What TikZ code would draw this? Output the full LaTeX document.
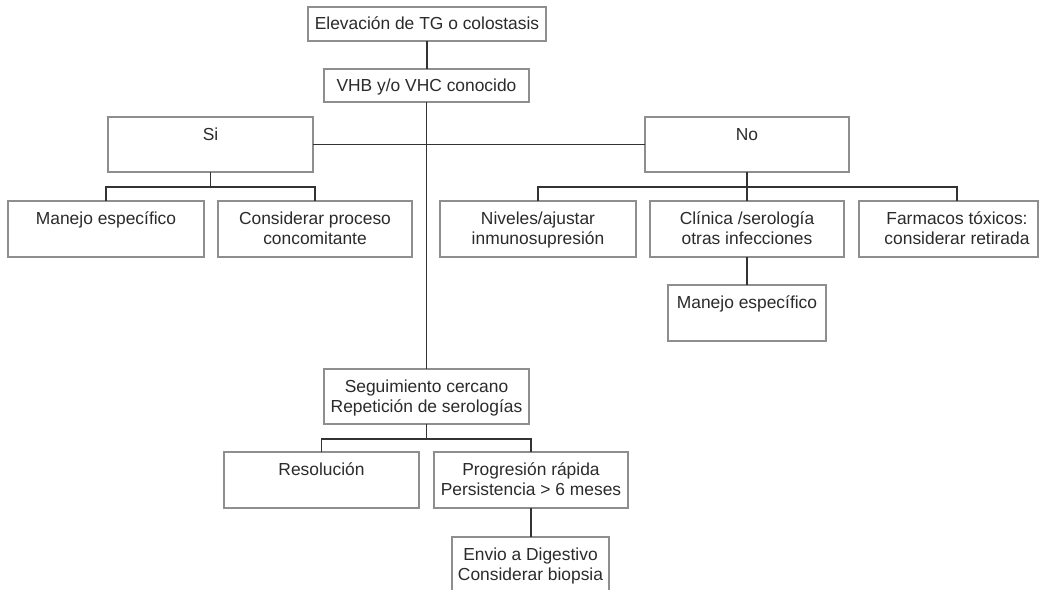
\documentclass[tikz,border=0pt]{standalone}
\usepackage{fontspec}
\setmainfont{Liberation Sans}
\definecolor{boxc}{HTML}{8E8E8E}
\definecolor{linec}{HTML}{333333}
\definecolor{txtc}{HTML}{2B2B2B}
\begin{document}
\begin{tikzpicture}[x=1pt,y=-1pt,
  box/.style={draw=boxc, line width=1.3pt, rectangle, inner sep=0pt, outer sep=0pt,
    anchor=north, align=center, text=txtc,
    font=\fontsize{17.4}{20.5}\selectfont, text height=23pt, text depth=33pt},
  twoline/.style={box, text height=43.5pt, text depth=12.5pt},
  conn/.style={draw=linec, line width=1.8pt}]
\useasboundingbox (0,0) rectangle (1044,589);
\fill[white] (0,0) rectangle (1044,589);
\clip (0,0) rectangle (1044,589);

\node[box, minimum width=238pt, text height=22pt, text depth=12pt] (top) at (427,7) {Elevación de TG o colostasis};
\node[box, minimum width=205pt, text height=22pt, text depth=11pt] (vhb) at (426.5,69) {VHB y/o VHC conocido};
\node[box, minimum width=205pt, text depth=32pt] (si) at (210.5,117) {Si};
\node[box, minimum width=204pt, text depth=32pt] (no) at (747,117) {No};
\node[box, minimum width=196pt] (me1) at (106,201) {Manejo específico};
\node[twoline, minimum width=194pt] (cp) at (315,201) {Considerar proceso\\concomitante};
\node[twoline, minimum width=196pt] (niv) at (538,201) {Niveles/ajustar\\inmunosupresión};
\node[twoline, minimum width=194pt] (cli) at (747,201) {Clínica /serología\\otras infecciones};
\node[twoline, minimum width=179pt] (far) at (948.5,201) {\hspace*{17pt}Farmacos tóxicos:\\\hspace*{17pt}considerar retirada};
\node[box, minimum width=158pt] (me2) at (747,285) {Manejo específico};
\node[twoline, minimum width=205pt, text depth=11.5pt] (sig) at (426.5,369) {Seguimiento cercano\\Repetición de serologías};
\node[box, minimum width=195pt] (res) at (321.5,452) {Resolución};
\node[twoline, minimum width=194pt] (pro) at (531,452) {Progresión rápida\\Persistencia > 6 meses};
\node[twoline, minimum width=157pt] (env) at (530.5,537) {Envio a Digestivo\\Considerar biopsia};

\draw[conn] (top.south) -- (top.south |- vhb.north);
\draw[conn] (vhb.south) -- (vhb.south |- sig.north);
\draw[conn] (si.east) -- (no.west);
\draw[conn] (si.south) -- ++(0,15);
\draw[conn] (me1.north) -- ++(0,-14) -| (cp.north);
\draw[conn] (no.south) -- (cli.north);
\draw[conn] (niv.north) -- ++(0,-14) -| ([xshift=8.5pt]far.north);
\draw[conn] (cli.south) -- (me2.north);
\draw[conn] (sig.south) -- ++(0,15);
\draw[conn] (res.north) -- ++(0,-13) -| (pro.north);
\draw[conn] (pro.south) -- (pro.south |- env.north);
\end{tikzpicture}
\end{document}
